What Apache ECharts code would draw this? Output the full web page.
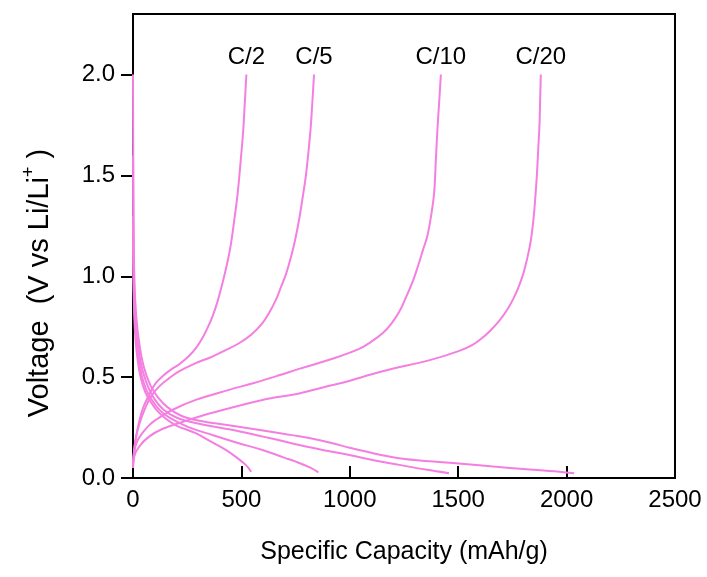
<!DOCTYPE html>
<html>
<head>
<meta charset="utf-8">
<script src="https://cdn.jsdelivr.net/npm/echarts@6/dist/echarts.min.js"></script>
<style>
  html, body { margin: 0; padding: 0; background: #fff; }
  #chart { width: 707px; height: 577px; }
</style>
</head>
<body>
<div id="chart"></div>
<script>
// Galvanostatic curves: [specific capacity (mAh/g), voltage (V)]
var rateLabels = ['C/2', 'C/5', 'C/10', 'C/20'];

// Discharge (lithiation) curves
var dischargeC2 = [[0,1.25],[2,1.0],[6,0.8],[12,0.68],[22,0.58],[35,0.5],[55,0.43],[80,0.38],[110,0.335],[150,0.295],[200,0.26],[289,0.222],[360,0.18],[428,0.139],[480,0.1],[520,0.065],[538,0.042],[545,0.031]];
var dischargeC5 = [[0,1.3],[2,1.05],[6,0.85],[14,0.7],[25,0.6],[40,0.51],[60,0.44],[85,0.39],[120,0.34],[166,0.3],[250,0.255],[366,0.213],[480,0.175],[597,0.139],[700,0.1],[751,0.081],[820,0.05],[855,0.028]];
var dischargeC10 = [[0,1.6],[2,1.2],[6,0.92],[14,0.75],[28,0.62],[45,0.53],[70,0.45],[100,0.39],[140,0.34],[200,0.3],[300,0.27],[450,0.24],[600,0.205],[690,0.183],[766,0.164],[880,0.138],[997,0.114],[1110,0.088],[1228,0.065],[1350,0.042],[1458,0.024]];
var dischargeC20 = [[0,2.0],[2,1.4],[6,1.0],[15,0.8],[30,0.66],[50,0.55],[80,0.46],[115,0.4],[160,0.35],[220,0.31],[300,0.285],[450,0.26],[600,0.235],[700,0.218],[766,0.207],[840,0.192],[920,0.172],[1000,0.15],[1074,0.131],[1150,0.113],[1228,0.098],[1350,0.084],[1489,0.073],[1650,0.058],[1800,0.045],[1966,0.031],[2035,0.023]];

// Charge (delithiation) curves
var chargeC2 = [[0,0.055],[5,0.139],[18,0.228],[43,0.337],[74,0.412],[105,0.47],[143,0.511],[180,0.541],[212,0.563],[258,0.605],[291,0.645],[321,0.695],[346,0.749],[366,0.799],[388,0.868],[412,0.963],[435,1.067],[451,1.156],[466,1.27],[480,1.385],[489,1.479],[498,1.588],[508,1.717],[515,1.846],[523,2.0]];
var chargeC5 = [[0,0.074],[12,0.189],[28,0.263],[59,0.354],[88,0.412],[120,0.453],[166,0.494],[212,0.528],[282,0.566],[366,0.602],[429,0.635],[489,0.668],[545,0.71],[597,0.768],[628,0.819],[659,0.883],[683,0.948],[706,1.012],[729,1.097],[748,1.181],[766,1.28],[781,1.38],[797,1.495],[808,1.603],[820,1.743],[828,1.876],[835,2.0]];
var chargeC10 = [[0,0.05],[5,0.123],[18,0.179],[43,0.222],[74,0.261],[105,0.288],[181,0.337],[289,0.387],[443,0.437],[558,0.471],[674,0.509],[766,0.541],[920,0.591],[1043,0.64],[1098,0.675],[1151,0.717],[1191,0.764],[1228,0.824],[1258,0.893],[1288,0.968],[1315,1.052],[1338,1.132],[1358,1.201],[1375,1.3],[1389,1.413],[1397,1.578],[1405,1.743],[1413,1.876],[1420,2.0]];
var chargeC20 = [[0,0.055],[5,0.106],[28,0.155],[74,0.205],[135,0.243],[243,0.283],[366,0.323],[597,0.387],[766,0.419],[905,0.457],[966,0.472],[1151,0.529],[1381,0.588],[1505,0.63],[1566,0.66],[1606,0.69],[1643,0.725],[1689,0.779],[1726,0.834],[1754,0.888],[1777,0.943],[1800,1.012],[1818,1.087],[1834,1.171],[1846,1.27],[1855,1.38],[1863,1.504],[1869,1.628],[1875,1.752],[1878,1.876],[1881,2.0]];

var xTicks = [0, 500, 1000, 1500, 2000, 2500];
var yTicks = [0, 0.5, 1.0, 1.5, 2.0];

var lineColor = '#f47fe0';
var fontFamily = '"Liberation Sans", Arial, sans-serif';

var curves = [dischargeC2, dischargeC5, dischargeC10, dischargeC20, chargeC2, chargeC5, chargeC10, chargeC20];
var chargeCurves = [chargeC2, chargeC5, chargeC10, chargeC20];

var series = curves.map(function (d) {
  return {
    type: 'line',
    data: d,
    showSymbol: false,
    symbol: 'none',
    smooth: 0.4,
    lineStyle: { color: lineColor, width: 2 },
    silent: true,
    z: 2
  };
});

// Rate labels sit above the top end of each charge curve
series.push({
  type: 'scatter',
  symbolSize: 1,
  silent: true,
  itemStyle: { color: 'rgba(0,0,0,0)' },
  data: chargeCurves.map(function (c, i) {
    var last = c[c.length - 1];
    return { name: rateLabels[i], value: last };
  }),
  label: {
    show: true,
    position: 'top',
    distance: 5,
    formatter: '{b}',
    color: '#000',
    opacity: 1,
    fontSize: 24,
    fontFamily: fontFamily
  },
  z: 3
});

var chart = echarts.init(document.getElementById('chart'), null, { renderer: 'canvas' });

chart.setOption({
  animation: false,
  backgroundColor: '#fff',
  grid: {
    left: 133, right: 32, top: 14, bottom: 99,
    show: true,
    borderColor: '#000',
    borderWidth: 2,
    backgroundColor: 'transparent'
  },
  xAxis: {
    type: 'value',
    min: 0, max: 2500, interval: 500,
    name: 'Specific Capacity (mAh/g)',
    nameLocation: 'middle',
    nameGap: 62,
    nameTextStyle: { color: '#000', fontSize: 25, fontFamily: fontFamily },
    axisLine: { show: true, onZero: false, lineStyle: { color: '#000', width: 2 } },
    axisTick: { show: true, inside: true, length: 12, customValues: xTicks, lineStyle: { color: '#000', width: 2 } },
    axisLabel: {
      color: '#000', fontSize: 24, fontFamily: fontFamily, margin: 10,
      customValues: xTicks,
      formatter: function (v) { return String(v); }
    },
    splitLine: { show: false }
  },
  yAxis: {
    type: 'value',
    min: 0, max: 2.3,
    axisLine: { show: true, onZero: false, lineStyle: { color: '#000', width: 2 } },
    axisTick: { show: true, inside: false, length: 12, customValues: yTicks, lineStyle: { color: '#000', width: 2 } },
    axisLabel: {
      color: '#000', fontSize: 24, fontFamily: fontFamily, margin: 18,
      customValues: yTicks,
      formatter: function (v) { return v.toFixed(1); }
    },
    splitLine: { show: false }
  },
  graphic: [{
    type: 'text',
    x: 40,
    y: 283,
    rotation: Math.PI / 2,
    style: {
      text: 'Voltage  (V vs Li/Li{sup|+} )',
      fill: '#000',
      font: '29px ' + fontFamily,
      align: 'center',
      verticalAlign: 'middle',
      rich: {
        sup: { fontSize: 18, fontFamily: fontFamily, padding: [0, 0, 22, 0], fill: '#000' }
      }
    }
  }],
  series: series
});
</script>
</body>
</html>
